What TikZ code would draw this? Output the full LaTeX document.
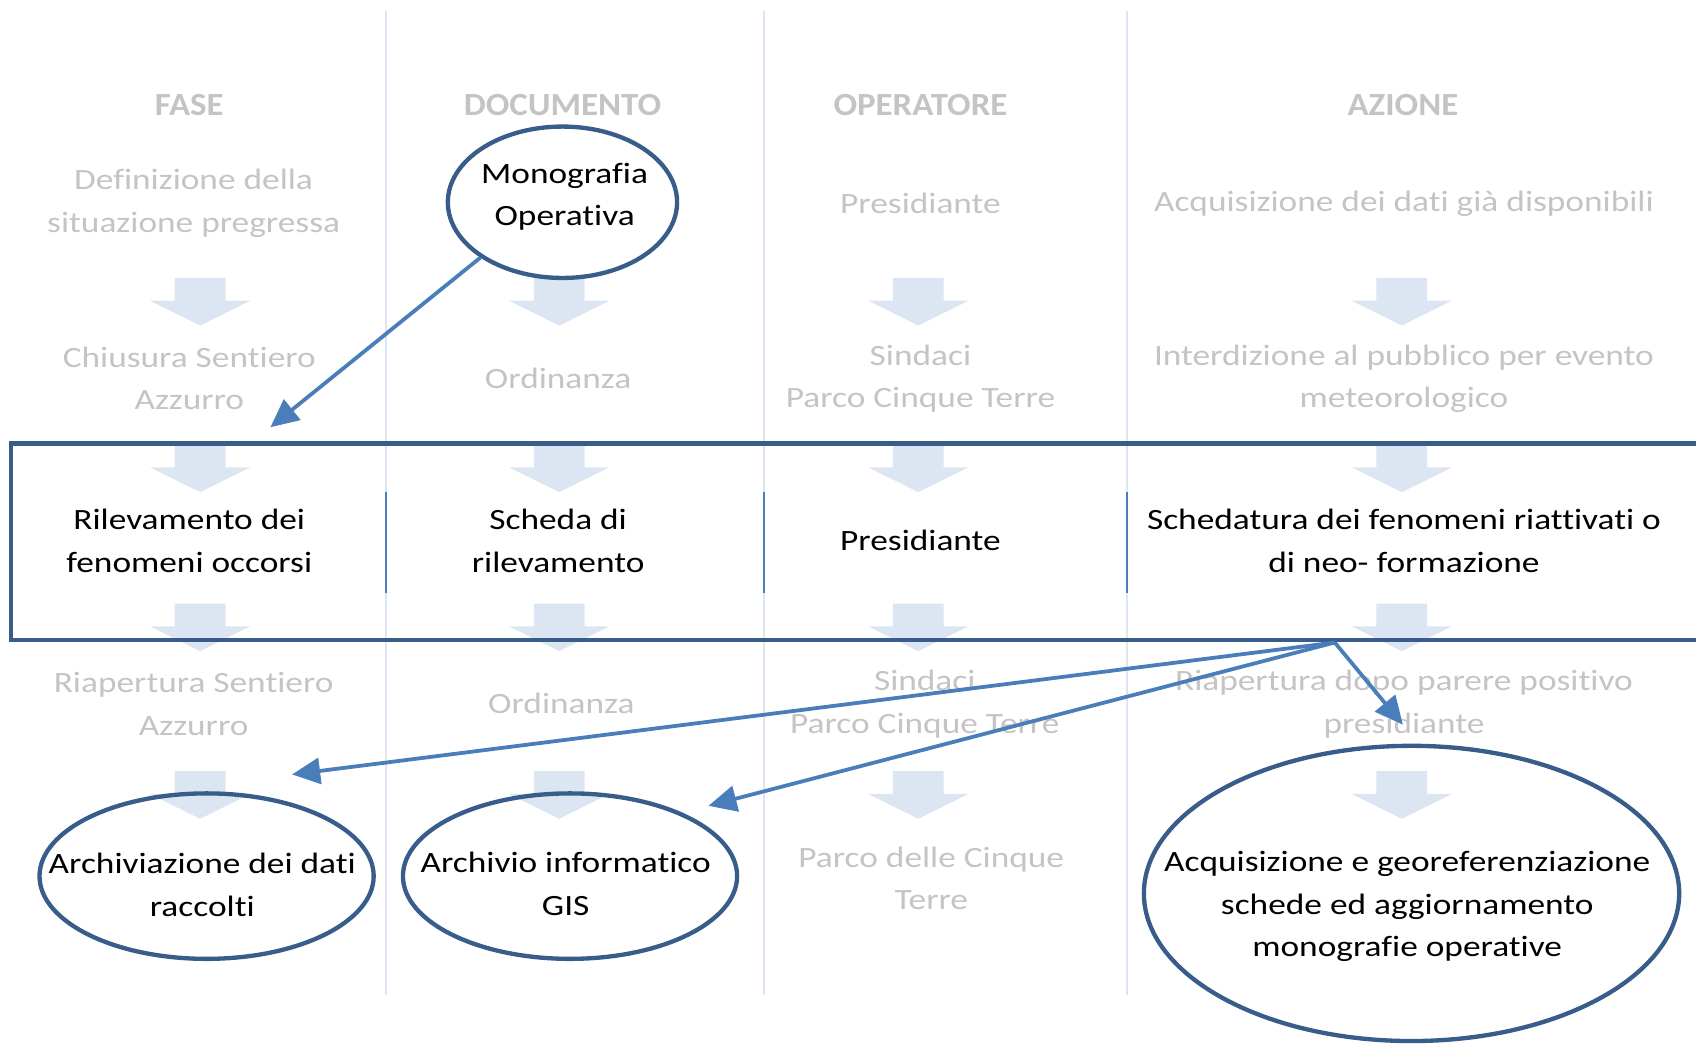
\documentclass[tikz,border=0pt]{standalone}
\usepackage{fontspec}
\setmainfont{Carlito}
\newfontfamily\cellfont[FakeStretch=1.2,Ligatures=NoCommon]{Carlito}
\newfontfamily\hdrfont[FakeStretch=1.08,Ligatures=NoCommon]{Carlito}
\usetikzlibrary{arrows.meta,shapes.geometric}

\definecolor{fadegray}{RGB}{196,196,196}
\definecolor{paleblue}{RGB}{220,230,242}
\definecolor{framblue}{RGB}{56,93,138}
\definecolor{linkblue}{RGB}{74,126,187}

\begin{document}
\begin{tikzpicture}[x=0.02cm, y=-0.02cm,
    hdr/.style={text=fadegray, font=\hdrfont\fontsize{17}{22}\selectfont\bfseries},
    faded/.style={text=fadegray, align=center, font=\cellfont\fontsize{15.5}{22.3}\selectfont},
    dark/.style={text=black, align=center, font=\cellfont\fontsize{15.5}{22.3}\selectfont},
    oval/.style={draw=framblue, ellipse, line width=0.08cm, inner sep=0pt},
    link/.style={->, draw=linkblue, line width=0.07cm, >={Triangle[length=0.52cm,width=0.48cm]}},
    dnarrow/.pic={\fill[paleblue] (-23.5,0) -- (23.5,0) -- (23.5,21) -- (46.5,21) -- (0,44) -- (-46.5,21) -- (-23.5,21) -- cycle;}]

    \useasboundingbox (0,0) rectangle (1568,966);

    % column rules
    \draw[paleblue, line width=0.04cm] (357,10) -- (357,920);
    \draw[paleblue, line width=0.04cm] (706,10) -- (706,920);
    \draw[paleblue, line width=0.04cm] (1042,10) -- (1042,920);

    % flow arrows
    \pic at (185,257) {dnarrow};  \pic at (517,257) {dnarrow};  \pic at (849,257) {dnarrow};  \pic at (1296,257) {dnarrow};
    \pic at (185,411) {dnarrow};  \pic at (517,411) {dnarrow};  \pic at (849,411) {dnarrow};  \pic at (1296,411) {dnarrow};
    \pic at (185,558) {dnarrow};  \pic at (517,558) {dnarrow};  \pic at (849,558) {dnarrow};  \pic at (1296,558) {dnarrow};
    \pic at (185,713) {dnarrow};  \pic at (517,713) {dnarrow};  \pic at (849,713) {dnarrow};  \pic at (1296,713) {dnarrow};

    % headings
    \node[hdr] (fase) at (175,97) {FASE};
    \node[hdr] (documento) at (520,97) {DOCUMENTO};
    \node[hdr] (operatore) at (851,97) {OPERATORE};
    \node[hdr] (azione) at (1297,97) {AZIONE};

    % faded rows
    \node[faded] (definiz) at (179,188) {Definizione della\\situazione pregressa};
    \node[faded] (presid1) at (851,188) {Presidiante};
    \node[faded] (acquisdati) at (1298,188) {Acquisizione dei dati già disponibili};

    \node[faded] (chiusura) at (175,350) {Chiusura Sentiero\\Azzurro};
    \node[faded] (ordin1) at (516,350) {Ordinanza};
    \node[faded] (sindaci1) at (851,350) {Sindaci\\Parco Cinque Terre};
    \node[faded] (interdiz) at (1298,350) {Interdizione al pubblico per evento\\meteorologico};

    \node[faded] (riapertura) at (179,651) {Riapertura Sentiero\\Azzurro};
    \node[faded] (ordin2) at (519,650) {Ordinanza};
    \node[faded] (sindaci2) at (855,651) {Sindaci\\Parco Cinque Terre};
    \node[faded] (parere) at (1298,651) {Riapertura dopo parere positivo\\presidiante};

    \node[faded] (parco) at (861,812) {Parco delle Cinque\\Terre};

    % highlighted row
    \draw[framblue, line width=0.08cm] (1568,410) -| (10,592) -- (1568,592);
    \draw[linkblue, line width=0.04cm] (357,455) -- (357,548);
    \draw[linkblue, line width=0.04cm] (706,455) -- (706,548);
    \draw[linkblue, line width=0.04cm] (1042,455) -- (1042,548);

    \node[dark] (rilev) at (175,500) {Rilevamento dei\\fenomeni occorsi};
    \node[dark] (scheda) at (516,500) {Scheda di\\rilevamento};
    \node[dark] (presid2) at (851,500) {Presidiante};
    \node[dark] (schedat) at (1298,500) {Schedatura dei fenomeni riattivati o\\di neo- formazione};

    % ellipses
    \node[oval, minimum width=4.24cm, minimum height=2.8cm] (mono) at (520,187) {};
    \node[dark] (monotxt) at (522,182) {Monografia\\Operativa};
    \node[oval, minimum width=6.18cm, minimum height=3.06cm] (archiv) at (191,810) {};
    \node[dark] (archivtxt) at (187,818) {Archiviazione dei dati\\raccolti};
    \node[oval, minimum width=6.18cm, minimum height=3.06cm] (gis) at (527,810) {};
    \node[dark] (gistxt) at (523,817) {Archivio informatico\\GIS};
    \node[oval, minimum width=9.9cm, minimum height=5.46cm] (aggiorn) at (1305,826) {};
    \node[dark] (aggiorntxt) at (1301,838) {Acquisizione e georeferenziazione\\schede ed aggiornamento\\monografie operative};

    % connectors
    \coordinate (tip0) at (250,395);
    \coordinate (src) at (1234,594);
    \coordinate (tip1) at (270,716);
    \coordinate (tip2) at (655,745);
    \coordinate (tip3) at (1297,670);
    \draw[link] (mono.214) -- (tip0);
    \draw[link] (src) -- (tip1);
    \draw[link] (src) -- (tip2);
    \draw[link] (src) -- (tip3);

\end{tikzpicture}
\end{document}
